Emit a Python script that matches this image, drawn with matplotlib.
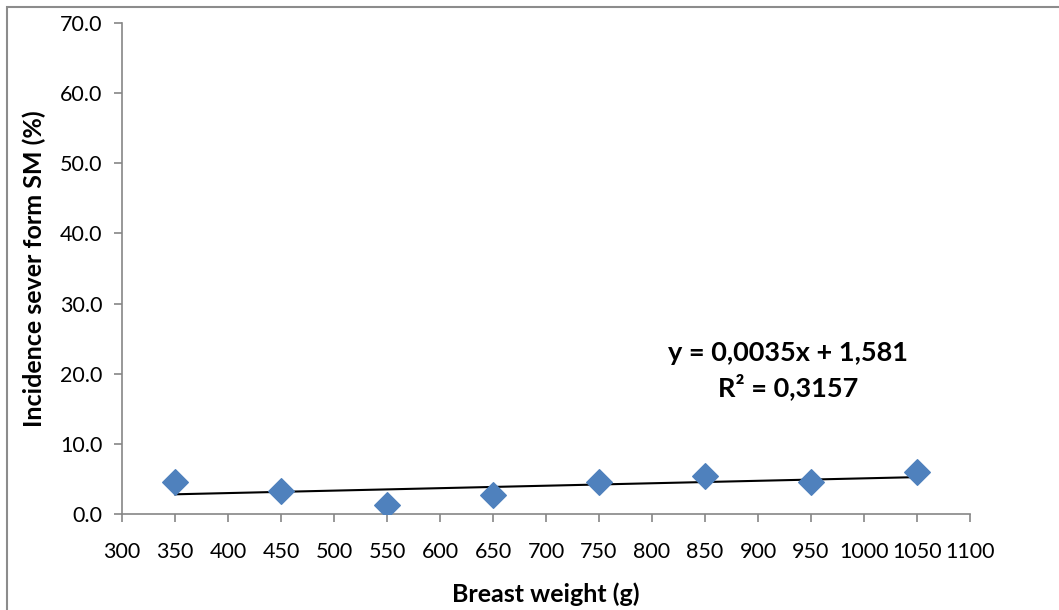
import matplotlib
matplotlib.use("Agg")
import matplotlib.pyplot as plt
from matplotlib.patches import Rectangle
import numpy as np

plt.rcParams['font.family'] = ['Lato', 'DejaVu Sans']

# breast weight classes (g) and incidence of severe form (%)
weight = [350, 450, 550, 650, 750, 850, 950, 1050]
incidence = [4.55, 3.3, 1.3, 2.7, 4.6, 5.4, 4.6, 6.0]

# linear trendline as reported
slope = 0.0035
intercept = 1.581
r2_label = "0,3157"

xticks = list(range(300, 1101, 50))
yticks = list(range(0, 71, 10))

fig = plt.figure(figsize=(10.59, 6.10), dpi=100)
ax = fig.add_axes([0.1152, 0.1574, 0.8008, 0.8049])

# border around the chart area
fig.patches.append(Rectangle((7 / 1059, -0.1), 1.2, 1 - 7 / 610 + 0.1,
                             transform=fig.transFigure, fill=False,
                             edgecolor='#8c8c8c', linewidth=1.5))

ax.scatter(weight, incidence, marker='D', s=170, color='#4F81BD',
           edgecolors='#4F81BD', zorder=3)

xt = np.array([weight[0], weight[-1]])
ax.plot(xt, slope * xt + intercept, color='black', linewidth=1.5, zorder=2)

ax.set_xlim(300, 1100)
ax.set_ylim(0, 70)
ax.set_xticks(xticks)
ax.set_yticks(yticks)
ax.set_xticklabels([str(v) for v in xticks])
ax.set_yticklabels(['%.1f' % v for v in yticks])
ax.tick_params(axis='both', direction='out', length=6, width=1.2,
               color='#868686', labelsize=15.5)
ax.tick_params(axis='x', pad=14)
ax.tick_params(axis='y', pad=8)

for s in ['top', 'right']:
    ax.spines[s].set_visible(False)
for s in ['left', 'bottom']:
    ax.spines[s].set_color('#868686')
    ax.spines[s].set_linewidth(1.2)

ax.set_xlabel('Breast weight (g)', fontsize=18, fontweight='bold', labelpad=15)
ax.set_ylabel('Incidence sever form SM (%)', fontsize=18, fontweight='bold', labelpad=10)

ax.text(928, 20.4, 'y = 0,0035x + 1,581\nR² = ' + r2_label, ha='center', va='center',
        fontsize=19.5, fontweight='bold', linespacing=1.35)

fig.savefig('out.png', dpi=100)
